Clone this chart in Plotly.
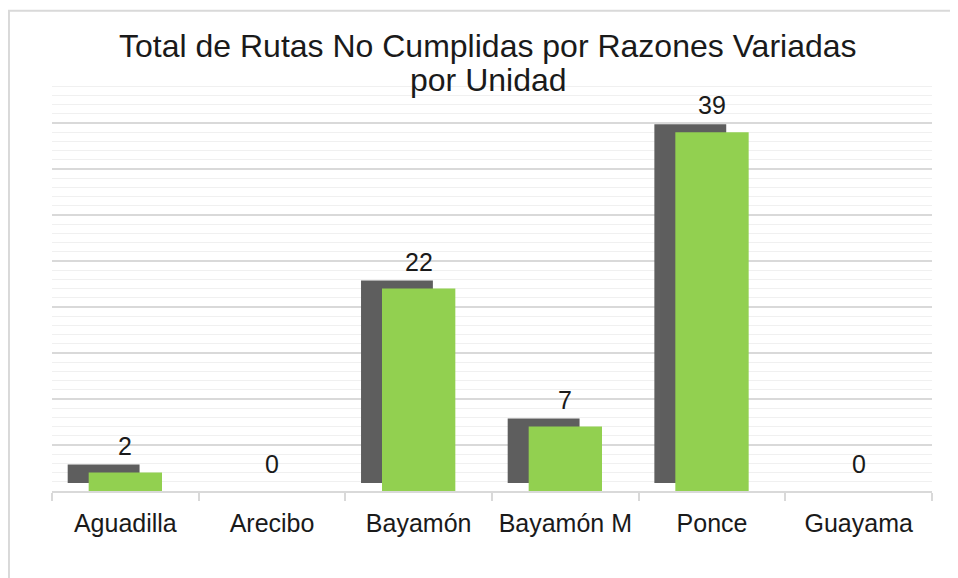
import plotly.graph_objects as go

categories = ["Aguadilla", "Arecibo", "Bayamón", "Bayamón M", "Ponce", "Guayama"]
values = [2, 0, 22, 7, 39, 0]
title_lines = ["Total de Rutas No Cumplidas por Razones Variadas", "por Unidad"]

FONT = "Liberation Sans, Arial, sans-serif"
TXT = "#1a1a1a"

fig = go.Figure()

# shadow bars (offset up-left)
fig.add_trace(go.Bar(
    x=categories, y=values, base=[0.87] * len(values),
    width=0.49, offset=-0.393,
    marker=dict(color="#5e5e5e", line=dict(width=0)),
    hoverinfo="skip", showlegend=False,
))
# main bars
fig.add_trace(go.Bar(
    x=categories, y=values,
    width=0.5,
    marker=dict(color="#92d050", line=dict(width=0)),
    showlegend=False,
))

for c, v in zip(categories, values):
    fig.add_annotation(x=c, y=v, text=str(v), showarrow=False,
                       xref="x", yref="y", yanchor="middle", yshift=27,
                       font=dict(family=FONT, size=25, color=TXT))

# title (two lines placed individually to match line spacing)
for line, ypos in zip(title_lines, [1.0749, 0.9928]):
    fig.add_annotation(text=line, x=0.4955, y=ypos, xref="paper", yref="paper",
                       xanchor="center", yanchor="middle", showarrow=False,
                       font=dict(family=FONT, size=32, color=TXT))

# outer chart border
fig.add_shape(type="rect", xref="paper", yref="paper",
              x0=-0.0489, x1=1.2, y0=-0.4, y1=1.16,
              line=dict(color="#d9d9d9", width=2), fillcolor="rgba(0,0,0,0)", layer="above")

fig.update_layout(
    width=950, height=570,
    margin=dict(l=44, r=26, t=69, b=87, autoexpand=False),
    paper_bgcolor="white", plot_bgcolor="white",
    barmode="overlay",
    font=dict(family=FONT, color=TXT),
    xaxis=dict(
        type="category", tickson="boundaries", ticks="outside", ticklen=8,
        tickcolor="#d9d9d9", tickwidth=1.5, tickangle=0, automargin=False,
        ticklabelstandoff=9,
        showline=True, linecolor="#d9d9d9", linewidth=1.5,
        showgrid=False, tickfont=dict(family=FONT, size=25, color=TXT),
        range=[-0.5, 5.5],
    ),
    yaxis=dict(
        range=[0, 45], dtick=5, showticklabels=False, ticks="",
        showgrid=True, gridcolor="#d9d9d9", gridwidth=1.5,
        zeroline=False, showline=False, automargin=False,
        minor=dict(dtick=1, showgrid=True, gridcolor="#f0f0f0", gridwidth=1),
    ),
)

fig.write_html("out.html")
